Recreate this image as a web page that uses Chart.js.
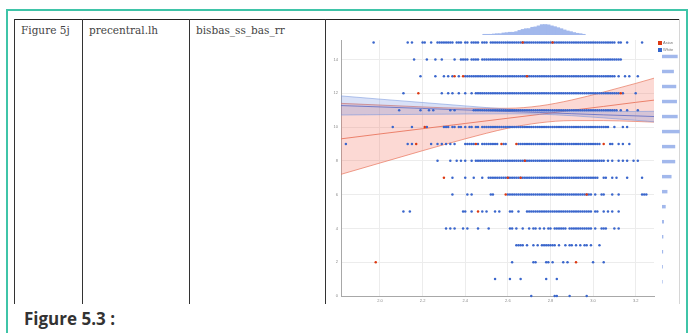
<!DOCTYPE html>
<html>
<head>
<meta charset="utf-8">
<script src="https://cdn.jsdelivr.net/npm/chart.js@4.4.1/dist/chart.umd.min.js"></script>
<style>
  html, body { margin: 0; padding: 0; background: #fff; }
  body { width: 693px; height: 333px; position: relative; overflow: hidden; }
  .frame { position: absolute; left: 6px; top: 9px; width: 678px; height: 340px; border: 2px solid #3fc4a8; border-bottom: none; }
  .hl { position: absolute; height: 1px; background: #222; }
  .vl { position: absolute; width: 1px; background: #333; }
  .cell { position: absolute; top: 24px; font-family: 'DejaVu Serif'; font-size: 10.5px; line-height: 12px; color: #444; white-space: nowrap; }
  .caption { position: absolute; left: 24px; top: 309px; font-family: 'Open Sans'; font-weight: 700; font-size: 17px; line-height: 20px; color: #333; white-space: nowrap; }
  canvas { position: absolute; }
  .legend { position: absolute; left: 658px; top: 39px; font-family: 'Liberation Sans'; font-size: 4px; line-height: 7px; color: #777; }
  .legend i { display: inline-block; width: 4px; height: 4px; margin-right: 1px; vertical-align: middle; }
</style>
</head>
<body>
<div class="frame"></div>
<div class="hl" style="left:14px; top:19px; width:665px;"></div>
<div class="vl" style="left:14px; top:19px; height:285px;"></div>
<div class="vl" style="left:82px; top:19px; height:285px;"></div>
<div class="vl" style="left:189px; top:19px; height:285px;"></div>
<div class="vl" style="left:325px; top:19px; height:285px;"></div>
<div class="vl" style="left:679px; top:19px; height:285px; background:#d6d6d6;"></div>
<div class="cell" style="left:21px;">Figure 5j</div>
<div class="cell" style="left:89px;">precentral.lh</div>
<div class="cell" style="left:196px;">bisbas_ss_bas_rr</div>
<div class="caption">Figure 5.3 :</div>

<canvas id="histTop" width="313" height="12" style="left:341px; top:23px;"></canvas>
<canvas id="main" width="334" height="276" style="left:326px; top:30px;"></canvas>
<canvas id="histRight" width="18" height="256" style="left:662px; top:40px;"></canvas>
<div class="legend"><div><i style="background:#dc3912"></i>Asian</div><div><i style="background:#3366cc"></i>White</div></div>

<script>
// axes
const xMin = 1.817, xMax = 3.286;
const yMin = 0, yMax = 15.15;
const xTicks = [2.0, 2.2, 2.4, 2.6, 2.8, 3.0, 3.2];
const yTicks = [0, 2, 4, 6, 8, 10, 12, 14];

// scatter points: one list per score (index = bisbas_ss_bas_rr), values = precentral.lh * 100
const whiteRows = [
  [271, 282, 283, 289, 297],
  [254, 261, 266, 278, 283],
  [262, 272, 273, 278, 279, 281, 286, 288, 300, 305],
  [264, 265, 266, 267, 269, 272, 274, 276, 277, 278, 279, 280, 281, 282, 284, 287, 289, 290, 292, 294, 296, 297, 299, 303],
  [231, 233, 235, 239, 241, 246, 251, 261, 262, 264, 267, 270, 272, 273, 275, 277, 279, 280, 282, 283, 284, 285, 286, 287,
   289, 290, 291, 292, 293, 294, 295, 296, 297, 298, 299, 301, 304, 305, 306, 310, 312],
  [211, 214, 239, 240, 243, 248, 250, 254, 256, 261, 262, 265, 269, 270, 271, 272, 273, 274, 275, 276, 277, 278, 279, 280,
   281, 282, 283, 284, 285, 286, 287, 288, 289, 290, 291, 292, 293, 294, 295, 296, 297, 298, 299, 301, 302, 305, 307, 309, 312],
  [234, 241, 243, 252, 253, 260, 261, 262, 263, 264, 265, 266, 267, 268, 269, 270, 271, 272, 273, 274, 275, 276, 277, 278,
   279, 280, 281, 282, 283, 284, 285, 286, 287, 288, 289, 290, 291, 292, 293, 294, 295, 296, 297, 298, 299, 301, 304, 305,
   309, 312, 323, 324, 325],
  [234, 240, 244, 248, 251, 252, 253, 254, 255, 256, 257, 258, 259, 260, 261, 262, 263, 264, 265, 266, 267, 268, 269, 270,
   271, 272, 273, 274, 275, 276, 277, 278, 279, 280, 281, 282, 283, 284, 285, 286, 287, 288, 289, 290, 291, 292, 293, 294,
   295, 296, 297, 298, 299, 300, 301, 302, 305, 306, 309, 311, 316, 323],
  [227, 233, 236, 238, 240, 243, 245, 246, 247, 248, 249, 250, 251, 252, 253, 254, 255, 256, 257, 258, 259, 260, 261, 262,
   263, 264, 265, 266, 267, 268, 269, 270, 271, 272, 273, 274, 275, 276, 277, 278, 279, 280, 281, 282, 283, 284, 285, 286,
   287, 288, 289, 290, 291, 292, 293, 294, 295, 296, 297, 298, 299, 300, 301, 302, 303, 304, 305, 307, 309, 312, 314, 316,
   319, 321],
  [184, 213, 215, 224, 227, 229, 231, 233, 235, 240, 241, 242, 243, 244, 246, 248, 249, 250, 251, 252, 253, 254, 255, 258,
   259, 265, 266, 267, 268, 269, 270, 271, 272, 273, 274, 275, 276, 277, 278, 279, 280, 281, 282, 283, 284, 285, 286, 287,
   288, 289, 290, 291, 292, 293, 294, 295, 296, 297, 298, 299, 300, 301, 302, 303, 308, 309, 312, 314, 317],
  [206, 215, 222, 230, 231, 232, 234, 235, 237, 238, 240, 242, 243, 245, 246, 248, 249, 250, 251, 252, 253, 254, 255, 256,
   257, 258, 259, 260, 261, 262, 263, 264, 265, 266, 267, 268, 269, 270, 271, 272, 273, 274, 275, 276, 277, 278, 279, 280,
   281, 282, 283, 284, 285, 286, 287, 288, 289, 290, 291, 292, 293, 294, 295, 296, 297, 298, 299, 300, 301, 302, 303, 304,
   305, 306, 307, 310, 314, 316],
  [209, 219, 223, 225, 233, 235, 244, 245, 246, 247, 248, 249, 250, 251, 252, 253, 254, 255, 256, 257, 258, 259, 260, 261,
   262, 263, 264, 265, 266, 267, 268, 269, 270, 271, 272, 273, 274, 275, 276, 277, 278, 279, 280, 281, 282, 283, 284, 285,
   286, 287, 288, 289, 290, 291, 292, 293, 294, 295, 296, 297, 298, 299, 300, 301, 302, 303, 304, 305, 306, 307, 308, 309,
   310, 311, 313, 316, 321],
  [211, 229, 232, 234, 237, 240, 243, 245, 246, 247, 248, 249, 250, 251, 252, 253, 254, 255, 256, 257, 258, 259, 260, 261,
   262, 263, 264, 265, 266, 267, 268, 269, 270, 271, 272, 273, 274, 275, 276, 277, 278, 279, 280, 281, 282, 283, 284, 285,
   286, 287, 288, 289, 290, 291, 292, 293, 294, 295, 296, 297, 298, 299, 300, 301, 302, 303, 304, 305, 306, 307, 308, 309,
   310, 311, 312, 314, 320],
  [219, 226, 230, 232, 234, 237, 240, 241, 242, 243, 244, 245, 246, 247, 248, 249, 250, 251, 252, 253, 254, 255, 256, 257,
   258, 259, 260, 261, 262, 263, 264, 265, 266, 267, 268, 269, 270, 271, 272, 273, 274, 275, 276, 277, 278, 279, 280, 281,
   282, 283, 284, 285, 286, 287, 288, 289, 290, 291, 292, 293, 294, 295, 296, 297, 298, 299, 300, 301, 302, 303, 304, 305,
   306, 307, 308, 309, 310, 312, 315, 317, 321],
  [216, 222, 226, 229, 235, 238, 239, 240, 241, 243, 244, 245, 246, 248, 249, 250, 251, 252, 253, 254, 255, 256, 257, 258,
   259, 260, 261, 262, 263, 264, 265, 266, 267, 268, 269, 270, 271, 272, 273, 274, 275, 276, 277, 278, 279, 280, 281, 282,
   283, 284, 285, 286, 287, 288, 289, 290, 291, 292, 293, 294, 295, 296, 297, 298, 299, 300, 301, 302, 303, 304, 305, 306,
   307, 308, 309, 310, 311, 312, 313],
  [197, 213, 215, 220, 221, 224, 227, 228, 229, 230, 231, 232, 233, 234, 236, 237, 238, 240, 241, 243, 244, 245, 246, 248,
   249, 250, 252, 253, 254, 255, 256, 257, 258, 259, 260, 261, 262, 263, 264, 265, 266, 267, 268, 269, 270, 271, 272, 273,
   274, 275, 276, 277, 278, 279, 280, 281, 282, 283, 284, 285, 286, 287, 288, 289, 290, 291, 292, 293, 294, 295, 296, 297,
   298, 299, 300, 301, 302, 303, 304, 305, 306, 307, 308, 309, 310, 312, 313, 316, 323]
];
const asianRows = [
  [], [], [198, 292], [], [], [246], [259, 297], [230, 260, 266], [268],
  [217, 245, 257, 264, 305], [221], [], [218, 313], [235, 239, 269], [], [267, 281]
];

// regression fits with 95% bands, read at these x positions
const bandX      = [1.817, 2.0, 2.2, 2.4, 2.6, 2.75, 2.9, 3.05, 3.2, 3.286];
const asianUpper = [11.40, 11.30, 11.19, 11.11, 11.11, 11.25, 11.60, 12.07, 12.58, 12.89];
const asianFit   = [9.30, 9.59, 9.90, 10.21, 10.52, 10.75, 10.99, 11.22, 11.46, 11.59];
const asianLower = [7.20, 7.87, 8.60, 9.30, 9.93, 10.25, 10.38, 10.38, 10.33, 10.29];
const whiteUpper = [11.84, 11.65, 11.45, 11.25, 11.06, 10.96, 10.91, 10.91, 10.92, 10.93];
const whiteFit   = [11.27, 11.19, 11.10, 11.01, 10.92, 10.86, 10.79, 10.72, 10.66, 10.62];
const whiteLower = [10.71, 10.73, 10.75, 10.77, 10.78, 10.76, 10.67, 10.54, 10.40, 10.31];

// marginal histograms
const histXBins   = [2.47, 2.49, 2.51, 2.53, 2.55, 2.57, 2.59, 2.61, 2.63, 2.65, 2.67, 2.69, 2.71, 2.73, 2.75, 2.77,
                     2.79, 2.81, 2.83, 2.85, 2.87, 2.89, 2.91, 2.93, 2.95, 2.97, 2.99, 3.01, 3.03, 3.05, 3.07, 3.09];
const histXCounts = [7, 7, 7, 10, 13, 13, 20, 23, 27, 27, 33, 45, 55, 62, 63, 76,
                     80, 90, 102, 103, 100, 90, 82, 72, 62, 50, 40, 33, 24, 17, 13, 7];
const histYRows   = [0, 1, 2, 3, 4, 5, 6, 7, 8, 9, 10, 11, 12, 13, 14, 15];
const histYCounts = [3, 5, 8, 10, 16, 33, 50, 90, 126, 126, 170, 150, 143, 136, 113, 150];

const toPoints = rows => rows.flatMap((xs, y) => xs.map(v => ({ x: v / 100, y: y })));
const toLine = ys => bandX.map((x, i) => ({ x: x, y: ys[i] }));

const noPlugins = { legend: { display: false }, tooltip: { enabled: false } };
const tickFont = { family: 'Liberation Sans', size: 4 };

new Chart(document.getElementById('main'), {
  type: 'scatter',
  data: {
    datasets: [
      { label: 'Asian', data: toPoints(asianRows), backgroundColor: '#dc3912', pointRadius: 1.25, borderWidth: 0, clip: false, order: 0 },
      { label: 'White', data: toPoints(whiteRows), backgroundColor: '#3a66cc', pointRadius: 1.25, borderWidth: 0, clip: false, order: 1 },
      { type: 'line', data: toLine(whiteUpper), borderColor: 'rgba(120,150,220,0.8)', borderWidth: 0.7, pointRadius: 0,
        cubicInterpolationMode: 'monotone', fill: '+1', backgroundColor: 'rgba(95,130,220,0.24)', order: 2 },
      { type: 'line', data: toLine(whiteLower), borderColor: 'rgba(120,150,220,0.8)', borderWidth: 0.7, pointRadius: 0,
        cubicInterpolationMode: 'monotone', order: 3 },
      { type: 'line', data: toLine(whiteFit), borderColor: 'rgba(90,100,190,0.9)', borderWidth: 0.9, pointRadius: 0,
        cubicInterpolationMode: 'monotone', order: 2 },
      { type: 'line', data: toLine(asianUpper), borderColor: 'rgba(232,120,95,0.9)', borderWidth: 0.8, pointRadius: 0,
        cubicInterpolationMode: 'monotone', fill: '+1', backgroundColor: 'rgba(244,120,100,0.28)', order: 4 },
      { type: 'line', data: toLine(asianLower), borderColor: 'rgba(232,120,95,0.9)', borderWidth: 0.8, pointRadius: 0,
        cubicInterpolationMode: 'monotone', order: 5 },
      { type: 'line', data: toLine(asianFit), borderColor: 'rgba(228,112,85,0.95)', borderWidth: 0.9, pointRadius: 0,
        cubicInterpolationMode: 'monotone', order: 4 }
    ]
  },
  options: {
    responsive: false,
    animation: false,
    layout: { padding: { top: 10, right: 6, left: 0, bottom: 0 } },
    plugins: noPlugins,
    scales: {
      x: {
        type: 'linear', min: xMin, max: xMax,
        afterBuildTicks: s => { s.ticks = xTicks.map(v => ({ value: v })); },
        afterFit: s => { s.height = 10; },
        grid: { color: '#ececec', lineWidth: 1, drawTicks: false },
        border: { color: '#a8a8a8', width: 1 },
        ticks: { font: tickFont, color: '#888', padding: 2, maxRotation: 0, callback: v => Number(v).toFixed(1) }
      },
      y: {
        min: yMin, max: yMax,
        afterBuildTicks: s => { s.ticks = yTicks.map(v => ({ value: v })); },
        afterFit: s => { s.width = 15; },
        grid: { color: '#ececec', lineWidth: 1, drawTicks: false },
        border: { color: '#a8a8a8', width: 1 },
        ticks: { font: tickFont, color: '#888', padding: 3 }
      }
    }
  }
});

new Chart(document.getElementById('histTop'), {
  type: 'bar',
  data: { datasets: [{ data: histXBins.map((b, i) => ({ x: b, y: histXCounts[i] })), backgroundColor: '#a2b8ec', barThickness: 3.5 }] },
  options: {
    responsive: false, animation: false, plugins: noPlugins,
    scales: { x: { type: 'linear', min: xMin, max: xMax, display: false }, y: { min: 0, max: 118, display: false } }
  }
});

new Chart(document.getElementById('histRight'), {
  type: 'bar',
  data: { datasets: [{ data: histYRows.map((r, i) => ({ x: histYCounts[i], y: r })), backgroundColor: '#a2b8ec', barThickness: 2.8 }] },
  options: {
    indexAxis: 'y',
    responsive: false, animation: false, plugins: noPlugins,
    scales: { x: { type: 'linear', min: 0, max: 176, display: false }, y: { type: 'linear', min: yMin, max: yMax, display: false } }
  }
});
</script>
</body>
</html>
